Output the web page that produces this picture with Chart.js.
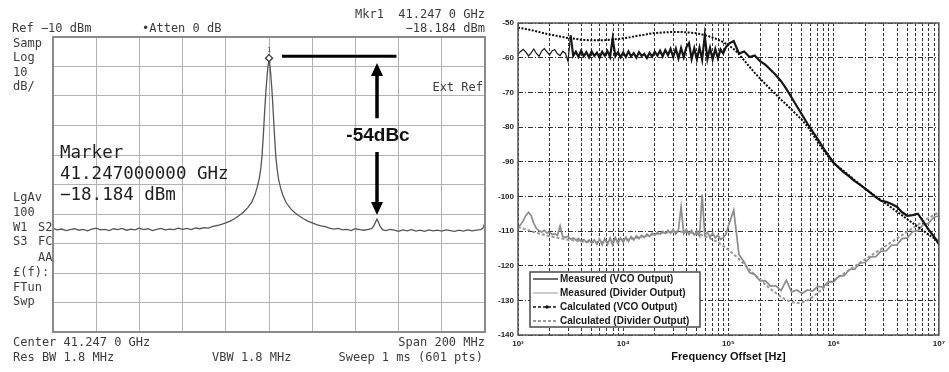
<!DOCTYPE html>
<html>
<head>
<meta charset="utf-8">
<script src="https://cdn.jsdelivr.net/npm/chart.js@4.4.1/dist/chart.umd.min.js"></script>
<style>
    html, body { margin: 0; padding: 0; background: #fff; }
    #page { position: relative; width: 949px; height: 372px; overflow: hidden; background: #fff; }
    #saChart { position: absolute; left: 0; top: 0; }
    #pnChart { position: absolute; left: 490px; top: 0; }
    .sa { position: absolute; font-family: "DejaVu Sans Mono", monospace; font-size: 12px; line-height: 12px; color: #3c3c3c; white-space: pre; }
    .big { font-size: 17.5px; line-height: 17.5px; color: #1e1e1e; }
    #dbc { position: absolute; left: 338px; top: 125px; width: 80px; text-align: center; font: bold 19px "Liberation Sans", Arial, sans-serif; line-height: 19px; color: #111; }
</style>
</head>
<body>
<div id="page">
    <canvas id="saChart" width="490" height="372"></canvas>
    <canvas id="pnChart" width="459" height="372"></canvas>

    <div class="sa" style="right:464px;top:8px">Mkr1  41.247 0 GHz</div>
    <div class="sa" style="left:12px;top:22px">Ref −10 dBm</div>
    <div class="sa" style="left:142px;top:22px">•Atten 0 dB</div>
    <div class="sa" style="right:464px;top:22px">−18.184 dBm</div>
    <div class="sa" style="left:13px;top:37px">Samp</div>
    <div class="sa" style="left:13px;top:51px">Log</div>
    <div class="sa" style="left:13px;top:66px">10</div>
    <div class="sa" style="left:13px;top:80px">dB/</div>
    <div class="sa" style="right:466px;top:81px">Ext Ref</div>
    <div class="sa" style="left:13px;top:191px">LgAv</div>
    <div class="sa" style="left:13px;top:206px">100</div>
    <div class="sa" style="left:13px;top:221px">W1</div>
    <div class="sa" style="left:38px;top:221px">S2</div>
    <div class="sa" style="left:13px;top:235px">S3</div>
    <div class="sa" style="left:38px;top:235px">FC</div>
    <div class="sa" style="left:38px;top:251px">AA</div>
    <div class="sa" style="left:13px;top:266px">£(f):</div>
    <div class="sa" style="left:13px;top:281px">FTun</div>
    <div class="sa" style="left:13px;top:295px">Swp</div>
    <div class="sa" style="left:13px;top:336px">Center 41.247 0 GHz</div>
    <div class="sa" style="right:464px;top:336px">Span 200 MHz</div>
    <div class="sa" style="left:13px;top:351px">Res BW 1.8 MHz</div>
    <div class="sa" style="left:212px;top:351px">VBW 1.8 MHz</div>
    <div class="sa" style="right:466px;top:351px">Sweep 1 ms (601 pts)</div>

    <div class="sa big" style="left:60px;top:144px">Marker</div>
    <div class="sa big" style="left:60px;top:165px">41.247000000 GHz</div>
    <div class="sa big" style="left:60px;top:186px">−18.184 dBm</div>
    <div id="dbc">-54dBc</div>
</div>

<script>
// ---- spectrum analyzer trace (offset from 41.247 GHz, MHz) ----
const saOffsetMHz = [
    -100, -98, -96, -94, -92, -90, -88, -86, -84, -82,
    -80, -78, -76, -74, -72, -70, -68, -66, -64, -62,
    -60, -58, -56, -54, -52, -50, -48, -46, -44, -42,
    -40, -38, -36, -34, -32, -30, -28, -26, -24, -22,
    -20, -18, -16, -14, -12, -10, -8, -6.5, -5.5, -4.5,
    -3.8, -3.2, -2.6, -2, -1.4, -0.8, -0.35, 0, 0.35, 0.8,
    1.4, 2, 2.6, 3.2, 3.8, 4.5, 5.5, 6.5, 8, 10,
    12, 14, 16, 18, 20, 22, 24, 26, 28, 30,
    32, 34, 36, 38, 40, 42, 44, 46, 47.5, 48.5,
    50, 51.5, 52.5, 54, 56, 58, 60, 62, 64, 66,
    68, 70, 72, 74, 76, 78, 80, 82, 84, 86,
    88, 90, 92, 94, 96, 98, 99, 100
];
const saLevelDbm = [
    -74.9, -75.4, -75.1, -75.6, -75.3, -75.0, -75.5, -75.2, -75.7, -75.1,
    -74.8, -75.4, -75.2, -75.6, -75.0, -75.3, -74.9, -75.5, -75.1, -75.4,
    -74.8, -75.3, -75.0, -75.6, -75.2, -74.9, -75.4, -75.1, -75.3, -74.8,
    -75.2, -74.9, -75.3, -74.7, -75.0, -74.6, -74.8, -74.2, -73.9, -73.5,
    -73.0, -72.4, -71.6, -70.6, -69.5, -68.0, -66.0, -63.5, -61.0, -58.0,
    -54.5, -50.0, -43.0, -35.0, -28.0, -22.5, -19.2, -18.2, -19.2, -22.5,
    -28.5, -36.0, -44.0, -51.0, -55.0, -58.5, -61.5, -63.8, -66.2, -68.2,
    -69.6, -70.7, -71.6, -72.4, -73.0, -73.6, -74.0, -74.3, -74.8, -75.1,
    -74.9, -75.4, -75.2, -75.6, -75.0, -75.3, -75.5, -75.2, -75.0, -74.0,
    -71.7, -74.2, -75.3, -75.6, -75.2, -75.5, -75.9, -75.4, -75.7, -75.3,
    -75.8, -75.5, -75.9, -75.4, -75.7, -75.5, -75.8, -75.4, -75.6, -75.9,
    -75.5, -75.8, -75.4, -75.7, -75.5, -75.3, -74.8, -73.0
];
const carrierOffsetMHz = 0;
const carrierDbm = -18.184;
const spurOffsetMHz = 50;
const spurDbm = -72;

// ---- phase noise plot ----
const pnMeasFreqHz = [
    1000, 1059, 1122, 1189, 1259, 1334, 1413, 1496, 1585, 1679,
    1778, 1884, 1995, 2113, 2239, 2371, 2512, 2661, 2818, 2985,
    3162, 3350, 3548, 3758, 3981, 4217, 4467, 4732, 5012, 5309,
    5623, 5957, 6310, 6683, 7079, 7499, 7943, 8414, 8913, 9441,
    10000, 10593, 11220, 11885, 12589, 13335, 14125, 14962, 15849, 16788,
    17783, 18836, 19953, 21135, 22387, 23714, 25119, 26607, 28184, 29854,
    31623, 33497, 35481, 37584, 39811, 42170, 44668, 47315, 50119, 53088,
    56234, 59566, 63096, 66834, 70795, 74989, 79433, 84140, 89125, 94406,
    100000, 112202, 125893, 141254, 158489, 177828, 199526, 223872, 251189, 281838,
    316228, 354813, 398107, 446684, 501187, 562341, 630957, 707946, 794328, 891251,
    1000000, 1122018, 1258925, 1412538, 1584893, 1778279, 1995262, 2238721, 2511886, 2818383,
    3162278, 3548134, 3981072, 4466836, 5011872, 5623413, 6309573, 7079458, 7943282, 8912509,
    10000000
];
const measVcoDbc = [
    -59.0, -58.2, -57.6, -58.4, -59.5, -58.6, -57.5, -58.8, -59.6, -58.1,
    -57.4, -58.3, -59.2, -58.0, -57.7, -58.9, -59.4, -58.2, -58.7, -61.0,
    -53.5, -59.5, -58.3, -59.8, -58.0, -59.6, -58.4, -59.9, -58.2, -59.5,
    -58.6, -60.0, -58.3, -59.4, -58.1, -59.8, -54.5, -59.6, -58.4, -59.9,
    -58.5, -59.8, -58.2, -59.6, -58.7, -60.0, -58.4, -59.5, -58.9, -60.1,
    -58.6, -59.7, -58.3, -59.4, -58.0, -59.6, -57.8, -59.3, -57.5, -59.8,
    -57.4, -60.2, -57.2, -59.9, -57.0, -55.8, -60.4, -57.3, -60.5, -57.1,
    -60.6, -53.6, -60.4, -57.2, -60.5, -57.5, -60.2, -57.6, -58.8, -57.0,
    -56.0, -55.2, -58.8, -58.2, -59.8, -59.4, -61.0, -62.0, -63.5, -65.0,
    -66.8, -69.0, -71.5, -74.0, -76.5, -79.0, -81.3, -83.6, -86.0, -88.2,
    -90.3, -91.8, -93.2, -94.3, -95.6, -96.6, -97.8, -99.0, -100.2, -101.3,
    -101.6, -102.2, -103.0, -104.6, -105.6, -105.4, -105.0, -107.2, -109.5, -111.5,
    -113.8
];
const measDivDbc = [
    -108.8, -108.2, -107.0, -105.5, -104.6, -105.6, -107.8, -109.3, -109.9, -110.3,
    -109.8, -110.6, -110.4, -111.0, -110.8, -111.3, -108.5, -111.6, -111.9, -111.5,
    -112.3, -112.0, -112.6, -112.2, -113.0, -112.4, -113.3, -112.6, -113.5, -112.5,
    -113.8, -112.3, -114.0, -112.2, -113.9, -112.0, -114.1, -111.9, -113.6, -112.0,
    -113.2, -111.8, -113.0, -111.6, -112.6, -111.4, -112.2, -111.2, -111.9, -110.9,
    -111.6, -110.6, -111.2, -110.4, -110.9, -110.1, -110.7, -109.8, -110.6, -109.5,
    -110.9, -109.6, -103.0, -110.8, -109.5, -111.0, -109.8, -111.2, -110.0, -111.5,
    -99.5, -111.2, -110.4, -111.8, -110.6, -112.0, -111.2, -112.4, -112.0, -111.0,
    -108.5, -104.0, -116.8, -119.0, -122.0, -122.6, -124.4, -124.3, -125.9, -125.8,
    -127.2, -124.2, -127.6, -127.0, -128.0, -127.0, -127.3, -126.0, -126.2, -124.6,
    -124.7, -123.0, -122.9, -121.1, -121.0, -119.2, -119.1, -117.5, -117.4, -115.8,
    -115.7, -114.1, -114.0, -112.2, -112.0, -110.2, -109.9, -108.2, -107.8, -106.1,
    -105.6
];
const pnCalcFreqHz = [
    1000, 1122, 1259, 1413, 1585, 1778, 1995, 2239, 2512, 2818,
    3162, 3548, 3981, 4467, 5012, 5623, 6310, 7079, 7943, 8913,
    10000, 11220, 12589, 14125, 15849, 17783, 19953, 22387, 25119, 28184,
    31623, 35481, 39811, 44668, 50119, 56234, 63096, 70795, 79433, 89125,
    100000, 112202, 125893, 141254, 158489, 177828, 199526, 223872, 251189, 281838,
    316228, 354813, 398107, 446684, 501187, 562341, 630957, 707946, 794328, 891251,
    1000000, 1122018, 1258925, 1412538, 1584893, 1778279, 1995262, 2238721, 2511886, 2818383,
    3162278, 3548134, 3981072, 4466836, 5011872, 5623413, 6309573, 7079458, 7943282, 8912509,
    10000000
];
const calcVcoDbc = [
    -51.3, -51.6, -51.9, -52.2, -52.6, -53.0, -53.3, -53.6, -53.9, -54.2,
    -54.4, -54.6, -54.8, -54.9, -55.0, -55.0, -55.0, -54.9, -54.8, -54.6,
    -54.4, -54.2, -53.9, -53.6, -53.4, -53.1, -52.9, -52.8, -52.7, -52.6,
    -52.6, -52.6, -52.7, -52.8, -53.0, -53.3, -53.7, -54.2, -54.8, -55.5,
    -56.4, -57.5, -59.0, -60.8, -62.6, -64.4, -66.0, -67.6, -69.1, -70.6,
    -72.1, -73.5, -75.0, -76.5, -78.0, -79.8, -82.0, -84.4, -86.6, -88.6,
    -90.4, -91.6, -92.8, -94.1, -95.4, -96.6, -97.8, -98.9, -100.0, -101.1,
    -102.2, -103.3, -104.4, -105.5, -106.6, -107.7, -108.8, -109.9, -111.0, -112.0,
    -113.0
];
const calcDivDbc = [
    -108.8, -109.3, -109.8, -110.3, -110.7, -111.1, -111.5, -111.8, -112.1, -112.4,
    -112.6, -112.8, -113.0, -113.1, -113.2, -113.2, -113.2, -113.1, -113.0, -112.8,
    -112.6, -112.4, -112.1, -111.8, -111.5, -111.2, -110.9, -110.7, -110.5, -110.3,
    -110.2, -110.2, -110.3, -110.5, -110.8, -111.2, -111.8, -112.5, -113.3, -114.3,
    -115.4, -116.7, -118.1, -119.6, -121.1, -122.6, -124.0, -125.4, -126.7, -127.9,
    -129.0, -129.9, -130.5, -130.8, -130.6, -130.0, -129.0, -127.8, -126.5, -125.3,
    -124.2, -123.2, -122.2, -121.2, -120.2, -119.2, -118.2, -117.2, -116.2, -115.2,
    -114.2, -113.2, -112.2, -111.2, -110.2, -109.2, -108.2, -107.2, -106.3, -105.4,
    -104.6
];
const pnGridHz = [
    1000, 2000, 3000, 4000, 5000, 6000, 7000, 8000, 9000,
    10000, 20000, 30000, 40000, 50000, 60000, 70000, 80000, 90000,
    100000, 200000, 300000, 400000, 500000, 600000, 700000, 800000, 900000,
    1000000, 2000000, 3000000, 4000000, 5000000, 6000000, 7000000, 8000000, 9000000,
    10000000
];
const pnDecadeHz = [1000, 10000, 100000, 1000000, 10000000];
const pnDecadeLabels = ['10³', '10⁴', '10⁵', '10⁶', '10⁷'];
const seriesLabels = ['Measured (VCO Output)', 'Measured (Divider Output)', 'Calculated (VCO Output)', 'Calculated (Divider Output)'];

function toPoints(xs, ys) {
    return xs.map((x, i) => ({ x: x, y: ys[i] }));
}

function drawArrowHead(ctx, x, y, dir) {
    // dir -1 = pointing up, 1 = pointing down
    ctx.beginPath();
    ctx.moveTo(x, y);
    ctx.lineTo(x - 6, y - dir * 13);
    ctx.lineTo(x + 6, y - dir * 13);
    ctx.closePath();
    ctx.fill();
}

// frame, marker and the -54 dBc annotation, all placed through the scales
const saOverlay = {
    id: 'saOverlay',
    afterDatasetsDraw(chart) {
        const ctx = chart.ctx;
        const a = chart.chartArea;
        const xs = chart.scales.x, ys = chart.scales.y;
        ctx.save();
        ctx.strokeStyle = '#8a8a8a';
        ctx.lineWidth = 2;
        ctx.strokeRect(a.left, a.top, a.right - a.left, a.bottom - a.top);

        // marker diamond
        const mx = xs.getPixelForValue(carrierOffsetMHz);
        const my = ys.getPixelForValue(carrierDbm) - 3;
        ctx.strokeStyle = '#333';
        ctx.lineWidth = 1.3;
        ctx.fillStyle = '#fff';
        ctx.beginPath();
        ctx.moveTo(mx, my - 3.5);
        ctx.lineTo(mx + 3.5, my);
        ctx.lineTo(mx, my + 3.5);
        ctx.lineTo(mx - 3.5, my);
        ctx.closePath();
        ctx.fill();
        ctx.stroke();
        ctx.fillStyle = '#444';
        ctx.font = '7px "DejaVu Sans Mono"';
        ctx.textAlign = 'center';
        ctx.fillText('1', mx, my - 6);

        // reference line at carrier level
        ctx.strokeStyle = '#000';
        ctx.lineWidth = 3;
        ctx.beginPath();
        ctx.moveTo(xs.getPixelForValue(6), ys.getPixelForValue(-16.5));
        ctx.lineTo(xs.getPixelForValue(59), ys.getPixelForValue(-16.5));
        ctx.stroke();

        // double arrow from carrier level down to spur level
        const ax = xs.getPixelForValue(spurOffsetMHz);
        const yTop = ys.getPixelForValue(carrierDbm - 0.6);
        const yBot = ys.getPixelForValue(spurDbm + 1.7);
        ctx.lineWidth = 3.5;
        ctx.beginPath();
        ctx.moveTo(ax, yTop + 10);
        ctx.lineTo(ax, ys.getPixelForValue(-37.5));
        ctx.moveTo(ax, ys.getPixelForValue(-49));
        ctx.lineTo(ax, yBot - 10);
        ctx.stroke();
        ctx.fillStyle = '#000';
        drawArrowHead(ctx, ax, yTop, -1);
        drawArrowHead(ctx, ax, yBot, 1);
        ctx.restore();
    }
};

function initSpectrumChart() {
    const grid = { color: '#b2b2b2', lineWidth: 1, drawTicks: false };
    new Chart(document.getElementById('saChart'), {
        type: 'line',
        data: {
            datasets: [{
                data: toPoints(saOffsetMHz, saLevelDbm),
                borderColor: '#555555',
                borderWidth: 1.3,
                pointRadius: 0,
                tension: 0
            }]
        },
        options: {
            responsive: false,
            animation: false,
            layout: { padding: { left: 53, top: 37, right: 5, bottom: 40 } },
            plugins: { legend: { display: false }, tooltip: { enabled: false } },
            scales: {
                x: { type: 'linear', min: -100, max: 100, ticks: { display: false, stepSize: 20 }, grid: grid, border: { display: false } },
                y: { type: 'linear', min: -110, max: -10, ticks: { display: false, stepSize: 10 }, grid: grid, border: { display: false } }
            }
        },
        plugins: [saOverlay]
    });
}

// plot frame and the boxed legend in the lower left corner
const pnOverlay = {
    id: 'pnOverlay',
    afterDraw(chart) {
        const ctx = chart.ctx;
        const a = chart.chartArea;
        ctx.save();
        ctx.strokeStyle = '#555';
        ctx.lineWidth = 1.5;
        ctx.strokeRect(a.left, a.top, a.right - a.left, a.bottom - a.top);

        const x0 = a.left + 12, y0 = a.bottom - 63, w = 170, h = 55;
        ctx.fillStyle = '#fff';
        ctx.fillRect(x0, y0, w, h);
        ctx.strokeStyle = '#4a4a4a';
        ctx.strokeRect(x0, y0, w, h);

        const styles = [
            { color: '#6e6e6e', dash: [], width: 2 },
            { color: '#cccccc', dash: [], width: 2 },
            { color: '#111111', dash: [3, 2], width: 1.6 },
            { color: '#9a9a9a', dash: [3, 2], width: 2 }
        ];
        ctx.font = 'bold 10px "Liberation Sans", Arial, sans-serif';
        ctx.textBaseline = 'middle';
        seriesLabels.forEach((label, i) => {
            const ry = y0 + 7 + i * 14;
            const s = styles[i];
            ctx.strokeStyle = s.color;
            ctx.lineWidth = s.width;
            ctx.setLineDash(s.dash);
            ctx.beginPath();
            ctx.moveTo(x0 + 3, ry);
            ctx.lineTo(x0 + 28, ry);
            ctx.stroke();
            ctx.setLineDash([]);
            if (i === 2) {
                ctx.fillStyle = '#111';
                ctx.beginPath();
                ctx.arc(x0 + 17, ry, 1.8, 0, Math.PI * 2);
                ctx.fill();
            }
            ctx.fillStyle = '#1a1a1a';
            ctx.fillText(label, x0 + 30, ry + 0.5);
        });
        ctx.restore();
    }
};

function initPhaseNoiseChart() {
    const tickFont = { family: '"Liberation Sans", Arial, sans-serif', size: 8, weight: 'bold' };
    new Chart(document.getElementById('pnChart'), {
        type: 'line',
        data: {
            datasets: [
                {
                    label: seriesLabels[0], data: toPoints(pnMeasFreqHz, measVcoDbc), borderColor: '#161616', borderWidth: 2, order: 1,
                    // the trace is thin below ~3 kHz and heavy above it
                    segment: { borderWidth: (c) => (c.p0.parsed.x < 3000 ? 1.2 : 2.2) }
                },
                { label: seriesLabels[1], data: toPoints(pnMeasFreqHz, measDivDbc), borderColor: '#8c8c8c', borderWidth: 1.7, order: 2 },
                { label: seriesLabels[2], data: toPoints(pnCalcFreqHz, calcVcoDbc), borderColor: '#0a0a0a', borderWidth: 2, borderDash: [2, 1.5], order: 0 },
                { label: seriesLabels[3], data: toPoints(pnCalcFreqHz, calcDivDbc), borderColor: '#9a9a9a', borderWidth: 2, borderDash: [3, 2], order: 3 }
            ]
        },
        options: {
            responsive: false,
            animation: false,
            elements: { point: { radius: 0 }, line: { tension: 0 } },
            layout: { padding: { left: 0, top: 23, right: 7, bottom: 0 } },
            plugins: { legend: { display: false }, tooltip: { enabled: false } },
            scales: {
                x: {
                    type: 'logarithmic',
                    min: 1000,
                    max: 10000000,
                    afterBuildTicks: (scale) => { scale.ticks = pnGridHz.map(v => ({ value: v })); },
                    afterFit: (scale) => { scale.height = 37; },
                    ticks: {
                        autoSkip: false, maxRotation: 0, minRotation: 0, padding: 4,
                        color: '#222', font: tickFont,
                        callback: (v) => {
                            const i = pnDecadeHz.indexOf(v);
                            return i >= 0 ? pnDecadeLabels[i] : '';
                        }
                    },
                    grid: { color: '#333', lineWidth: 1, drawTicks: false },
                    border: { display: false, dash: [3, 2] },
                    title: {
                        display: true, text: 'Frequency Offset [Hz]', color: '#111',
                        font: { family: '"Liberation Sans", Arial, sans-serif', size: 11, weight: 'bold' },
                        padding: { top: 0, bottom: 8 }
                    }
                },
                y: {
                    type: 'linear',
                    min: -140,
                    max: -50,
                    afterFit: (scale) => { scale.width = 28; },
                    ticks: { stepSize: 10, padding: 4, color: '#222', font: tickFont },
                    grid: { color: '#333', lineWidth: 1, drawTicks: false },
                    border: { display: false, dash: [5, 2, 1, 2] }
                }
            }
        },
        plugins: [pnOverlay]
    });
}

initSpectrumChart();
initPhaseNoiseChart();
</script>
</body>
</html>
